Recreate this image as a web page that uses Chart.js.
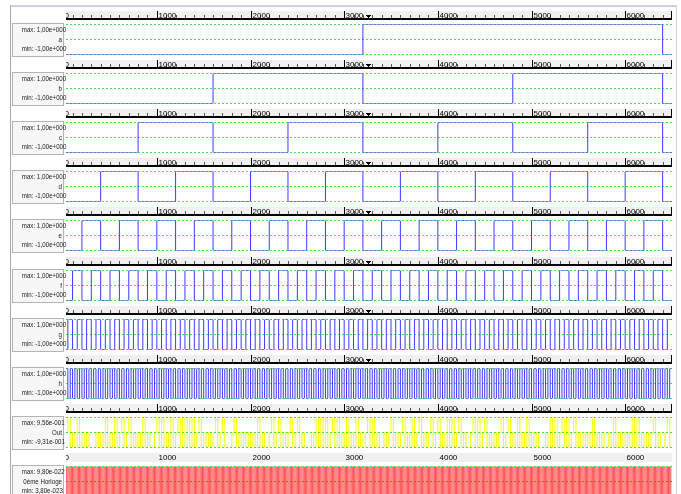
<!DOCTYPE html>
<html>
<head>
<meta charset="utf-8">
<script src="https://cdn.jsdelivr.net/npm/chart.js@4/dist/chart.umd.min.js"></script>
<style>
  html, body { margin: 0; padding: 0; background: #fff; width: 681px; height: 494px; overflow: hidden; }
  #frame { position: absolute; left: 10px; top: 5px; width: 665px; height: 495px;
           border-top: 2px solid #c9d3e3; border-left: 1px solid #a9a9a9; border-right: 1px solid #d4d4d4; }
  .panel { position: absolute; left: 0; width: 681px; height: 49px; }
  .info { position: absolute; left: 12px; width: 49px; height: 31px; padding: 1px 1px 0 0;
          border: 1px solid #b4b4b4; background: #f7f7f7; color: #222; text-align: right;
          font: 7.5px "Liberation Sans", sans-serif; line-height: 9.5px; white-space: nowrap; }
  .info div { transform: scaleX(0.82); transform-origin: 100% 50%; }
</style>
</head>
<body>
<div id="frame"></div>
<script>
// time axis (visible window) and ruler
const X_MIN = 30;
const X_MAX = 6500;
const RULER_LABELS = [0, 1000, 2000, 3000, 4000, 5000, 6000];
const RULER_MINOR = 100;
const CURSOR_T = 3250;

// panels
const NAMES = ['a', 'b', 'c', 'd', 'e', 'f', 'g', 'h', 'Out', '0éme Horloge'];
const MAX_TEXT = ['1,00e+000', '1,00e+000', '1,00e+000', '1,00e+000', '1,00e+000', '1,00e+000', '1,00e+000', '1,00e+000', '9,56e-001', '9,80e-022'];
const MIN_TEXT = ['-1,00e+000', '-1,00e+000', '-1,00e+000', '-1,00e+000', '-1,00e+000', '-1,00e+000', '-1,00e+000', '-1,00e+000', '-9,31e-001', '3,80e-023'];
const MAX_VAL = [1, 1, 1, 1, 1, 1, 1, 1, 0.956, 9.8e-22];
const MIN_VAL = [-1, -1, -1, -1, -1, -1, -1, -1, -0.931, 3.8e-23];

// sample period of each level string
const STEPS = [3200, 1600, 800, 400, 200, 100, 50, 25, 25, 12.5];

// levels: 0/L = min, M = 0, 1/H = max
const SIG_A = '010';
const SIG_B = '01010';
const SIG_C = '010101010';
const SIG_D = '01010101010101010';
const SIG_E = '010101010101010101010101010101010';
const SIG_F = '0101010101010101010101010101010101010101' +
              '0101010101010101010101010';
const SIG_G = '0101010101010101010101010101010101010101' +
              '0101010101010101010101010101010101010101' +
              '0101010101010101010101010101010101010101' +
              '0101010101';
const SIG_H = '0101010101010101010101010101010101010101' +
              '0101010101010101010101010101010101010101' +
              '0101010101010101010101010101010101010101' +
              '0101010101010101010101010101010101010101' +
              '0101010101010101010101010101010101010101' +
              '0101010101010101010101010101010101010101' +
              '01010101010101010101';
const SIG_OUT = 'LMHLMLHLMLMLLLMLMLHLMLHLMHLMHLMLMLHLMLLM' +
                'HLHLMLHLMHLHLHLHLMHLMLMLMHLMHLLLMHLMLMLM' +
                'LMLHLMLLMHLMHLMLMHLMHLMLLLMLHLHLHLMHLHLM' +
                'LHLMLHLMLMHLHLMLLMLMHLMLMHLMLHLMHLMLMHLM' +
                'HLMLHLHLMHLMLLMHLHLMHLMLMLMHLMHLMLHLMLHL' +
                'MLMLLLMLHLHLMHLHLMHLMLMLMLHLMLMLLMLHLMLM' +
                'LMLHLHLMLMLMHLMLLMHL';
const SIG_CLOCK = '0101010101010101010101010101010101010101' +
                  '0101010101010101010101010101010101010101' +
                  '0101010101010101010101010101010101010101' +
                  '0101010101010101010101010101010101010101' +
                  '0101010101010101010101010101010101010101' +
                  '0101010101010101010101010101010101010101' +
                  '0101010101010101010101010101010101010101' +
                  '0101010101010101010101010101010101010101' +
                  '0101010101010101010101010101010101010101' +
                  '0101010101010101010101010101010101010101' +
                  '0101010101010101010101010101010101010101' +
                  '0101010101010101010101010101010101010101' +
                  '0101010101010101010101010101010101010101';

const SIGNALS = [SIG_A, SIG_B, SIG_C, SIG_D, SIG_E, SIG_F, SIG_G, SIG_H, SIG_OUT, SIG_CLOCK];
const COLORS = ['#3b3bff', '#3b3bff', '#3b3bff', '#3b3bff', '#3b3bff', '#3b3bff', '#3b3bff', '#3b3bff', '#ffff00', '#ff5050'];

function toPoints(levels, step, lo, hi) {
  const pts = [];
  for (let i = 0; i < levels.length; i++) {
    const c = levels[i];
    const y = (c === '1' || c === 'H') ? hi : (c === 'M' ? 0 : lo);
    pts.push({x: i * step, y: y});
  }
  pts.push({x: levels.length * step, y: pts[pts.length - 1].y});
  return pts;
}

// ruler above each trace, drawn from the x scale
const rulerPlugin = {
  id: 'ruler',
  beforeDraw(chart, args, opts) {
    const ctx = chart.ctx;
    const {left, right, top} = chart.chartArea;
    const xs = chart.scales.x;
    const y0 = Math.floor(top) - 14;
    ctx.save();
    ctx.beginPath();
    ctx.rect(left, 0, right - left, top - 3);
    ctx.clip();
    ctx.fillStyle = '#f0f0f0';
    ctx.fillRect(left, y0 + 1, right - left, 9);
    if (opts.ticks) {
      ctx.fillStyle = '#000';
      ctx.fillRect(left, y0 + 8, right - left, 2);
      for (let t = 0; t <= X_MAX; t += RULER_MINOR) {
        const px = Math.round(xs.getPixelForValue(t));
        if (t % 1000 === 0) {
          ctx.fillStyle = '#000';
          ctx.fillRect(px, y0 + 1, 1, 7);
        } else {
          ctx.fillStyle = '#555';
          ctx.fillRect(px, y0 + 5, 1, 3);
        }
      }
      ctx.fillStyle = '#000';
      ctx.fillRect(right - 1, y0 + 1, 1, 9);
    }
    ctx.font = '8px "Liberation Sans", sans-serif';
    ctx.fillStyle = '#000';
    ctx.textBaseline = 'alphabetic';
    ctx.textAlign = 'left';
    RULER_LABELS.forEach(v => {
      ctx.fillText(String(v), Math.round(xs.getPixelForValue(v)) + 1.5, y0 + 7.5);
    });
    if (opts.cursor) {
      const cx = Math.round(xs.getPixelForValue(CURSOR_T));
      ctx.fillRect(cx - 2, y0 + 5, 5, 1);
      ctx.fillRect(cx - 1, y0 + 6, 3, 1);
      ctx.fillRect(cx, y0 + 7, 1, 1);
    }
    ctx.restore();
  }
};

// dashed guides at max / middle / min
function drawGuides(chart, opts) {
  const ctx = chart.ctx;
  const {left, right} = chart.chartArea;
  const ys = chart.scales.y;
  const levels = [ys.max, (ys.max + ys.min) / 2, ys.min];
  ctx.save();
  ctx.lineWidth = 1;
  ctx.setLineDash([2, 2]);
  levels.forEach((v, i) => {
    const py = Math.floor(ys.getPixelForValue(v)) + 0.5;
    ctx.strokeStyle = (i === 1 && opts.midColor) ? opts.midColor : '#3cf03c';
    ctx.beginPath();
    ctx.moveTo(left, py);
    ctx.lineTo(right, py);
    ctx.stroke();
  });
  ctx.restore();
}
const guidePlugin = {
  id: 'guides',
  beforeDatasetsDraw(chart, args, opts) { if (!opts.onTop) drawGuides(chart, opts); },
  afterDatasetsDraw(chart, args, opts) { if (opts.onTop) drawGuides(chart, opts); }
};

NAMES.forEach((name, i) => {
  const rowMax = Math.round(24 + 49.1 * i);

  const box = document.createElement('div');
  box.className = 'panel';
  box.style.top = (rowMax - 14) + 'px';
  const canvas = document.createElement('canvas');
  canvas.width = 681;
  canvas.height = 49;
  box.appendChild(canvas);
  document.body.appendChild(box);

  const info = document.createElement('div');
  info.className = 'info';
  info.style.top = (rowMax - 1) + 'px';
  ['max: ' + MAX_TEXT[i], name, 'min: ' + MIN_TEXT[i]].forEach(t => {
    const line = document.createElement('div');
    line.textContent = t;
    info.appendChild(line);
  });
  document.body.appendChild(info);

  new Chart(canvas, {
    type: 'line',
    data: {
      datasets: [{
        label: name,
        data: toPoints(SIGNALS[i], STEPS[i], MIN_VAL[i], MAX_VAL[i]),
        borderColor: COLORS[i],
        borderWidth: 1,
        pointRadius: 0,
        stepped: true,
        fill: false
      }]
    },
    options: {
      responsive: false,
      animation: false,
      events: [],
      layout: { padding: { left: 66, right: 9, top: 14.5, bottom: 4.5 } },
      scales: {
        x: { type: 'linear', min: X_MIN, max: X_MAX, display: false },
        y: { min: MIN_VAL[i], max: MAX_VAL[i], display: false }
      },
      plugins: {
        legend: { display: false },
        tooltip: { enabled: false },
        ruler: { ticks: i < 9, cursor: i < 8 },
        guides: { onTop: i >= 8, midColor: i === 9 ? '#a0662a' : null }
      }
    },
    plugins: [rulerPlugin, guidePlugin]
  });
});
</script>
</body>
</html>
